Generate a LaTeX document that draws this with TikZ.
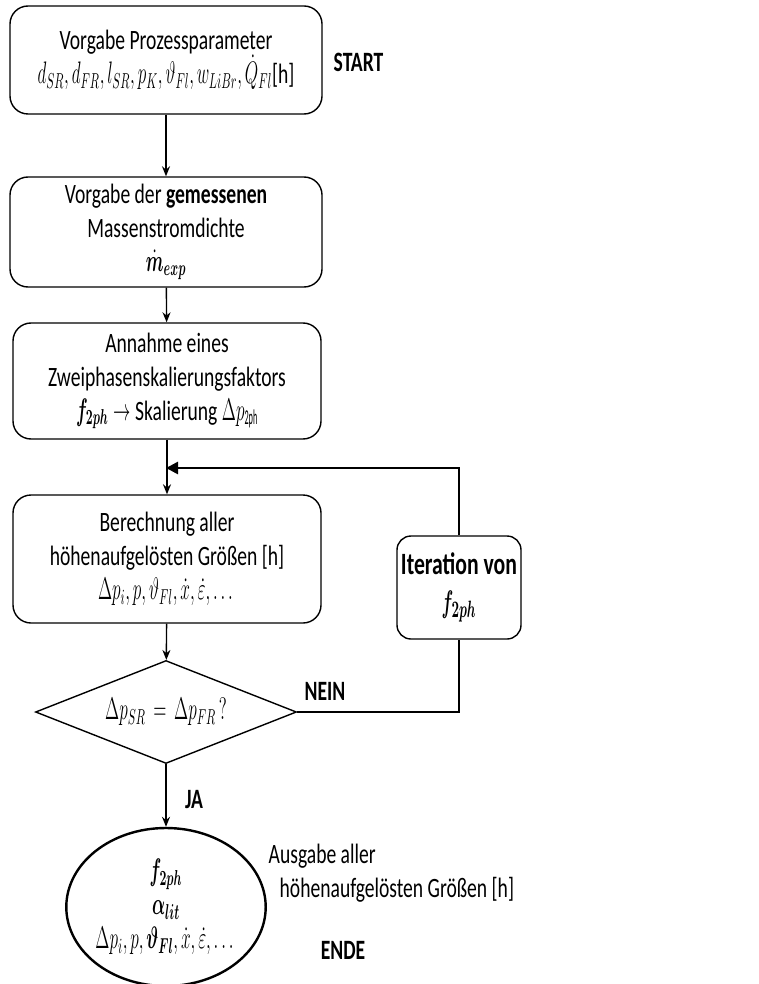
\documentclass[tikz,border=0pt]{standalone}
\usepackage{amsmath,bm}
\usepackage{graphicx}
\usepackage{fontspec}
\setmainfont{Carlito}[FakeStretch=0.70]
\usetikzlibrary{shapes.geometric,arrows.meta}
% narrow math, close to the compressed look of the reference
\newcommand{\mx}[1]{\scalebox{0.6}[1.08]{$#1$}}

\begin{document}
\begin{tikzpicture}[x=0.5pt,y=-0.5pt,
                    font=\fontsize{14}{17}\selectfont,
                    line width=0.7pt,
                    >={Stealth[length=5pt,width=4pt]},
                    ]
    \tikzstyle{process}=[draw,rounded corners=9pt,align=center,inner sep=2pt]
    \tikzstyle{decision}=[draw,diamond,aspect=2.5,inner sep=0pt,minimum width=130.5pt,minimum height=51.5pt]
    \tikzstyle{stopnode}=[draw,ellipse,line width=1.2pt,align=center,inner sep=0pt,minimum width=98.5pt,minimum height=79pt]
    \tikzstyle{loopline}=[line width=1.3pt]
    \tikzstyle{note}=[font=\fontsize{14}{17}\selectfont\bfseries,inner sep=0pt]

    \useasboundingbox (0,0) rectangle (759,984);

    \node[process,minimum width=156pt,minimum height=54pt] (param) at (166,60)
        {Vorgabe Prozessparameter\\
         \mx{d_{SR},d_{FR},l_{SR},p_K,\vartheta_{Fl},w_{LiBr},\dot{Q}_{Fl}}[h]};
    \node[process,minimum width=156pt,minimum height=55pt] (mass) at (166,232)
        {Vorgabe der \textbf{gemessenen}\\ Massenstromdichte\\ \mx{\bm{\dot{m}_{exp}}}};
    \node[process,minimum width=154pt,minimum height=58pt] (guess) at (167,381)
        {Annahme eines\\ Zweiphasenskalierungsfaktors\\
         \mx{\bm{f_{2ph}}\rightarrow} Skalierung \mx{\Delta p_{\text{2ph}}}};
    \node[process,minimum width=154pt,minimum height=64pt] (calc) at (167,559)
        {Berechnung aller\\ höhenaufgelösten Größen [h]\\
         \mx{\Delta p_i,p,\vartheta_{Fl},\dot{x},\dot{\varepsilon},\dots}};
    \node[process,rounded corners=7pt,minimum width=61pt,minimum height=51.5pt,
          font=\fontsize{15.5}{19}\selectfont] (iter) at (459,587.5)
        {\textbf{Iteration von}\\ \mx{\bm{f_{2ph}}}};
    \node[decision] (check) at (166,712) {\mx{\Delta p_{SR}\,=\,\Delta p_{FR}\,?}};
    \node[stopnode] (result) at (166,907)
        {\mx{\bm{f_{2ph}}}\\ \mx{\bm{\alpha_{lit}}}\\
         \mx{\Delta p_i,p,\bm{\vartheta_{Fl}},\dot{x},\dot{\varepsilon},\dots}};

    \coordinate (join) at (166,468);

    \node[note,anchor=west] (start) at (333,62) {START};
    \node[note] (nein) at (325,691) {NEIN};
    \node[note] (ja) at (194,800) {JA};
    \node[note] (ende) at (343,950) {ENDE};
    \node[anchor=west,align=left,inner sep=0pt] (output) at (268,873)
        {Ausgabe aller\\ \hspace*{5.5pt}höhenaufgelösten Größen [h]};

    \draw[->] (param) -- (mass);
    \draw[->] (mass) -- (guess);
    \draw[->] (guess) -- (calc);
    \draw[->] (calc) -- (check);
    \draw[->] (check) -- (result);
    \draw[loopline] (check.east) -| (iter.south);
    \draw[loopline,-{Triangle[length=6pt,width=6pt]}] (iter.north) |- (join);
\end{tikzpicture}
\end{document}
